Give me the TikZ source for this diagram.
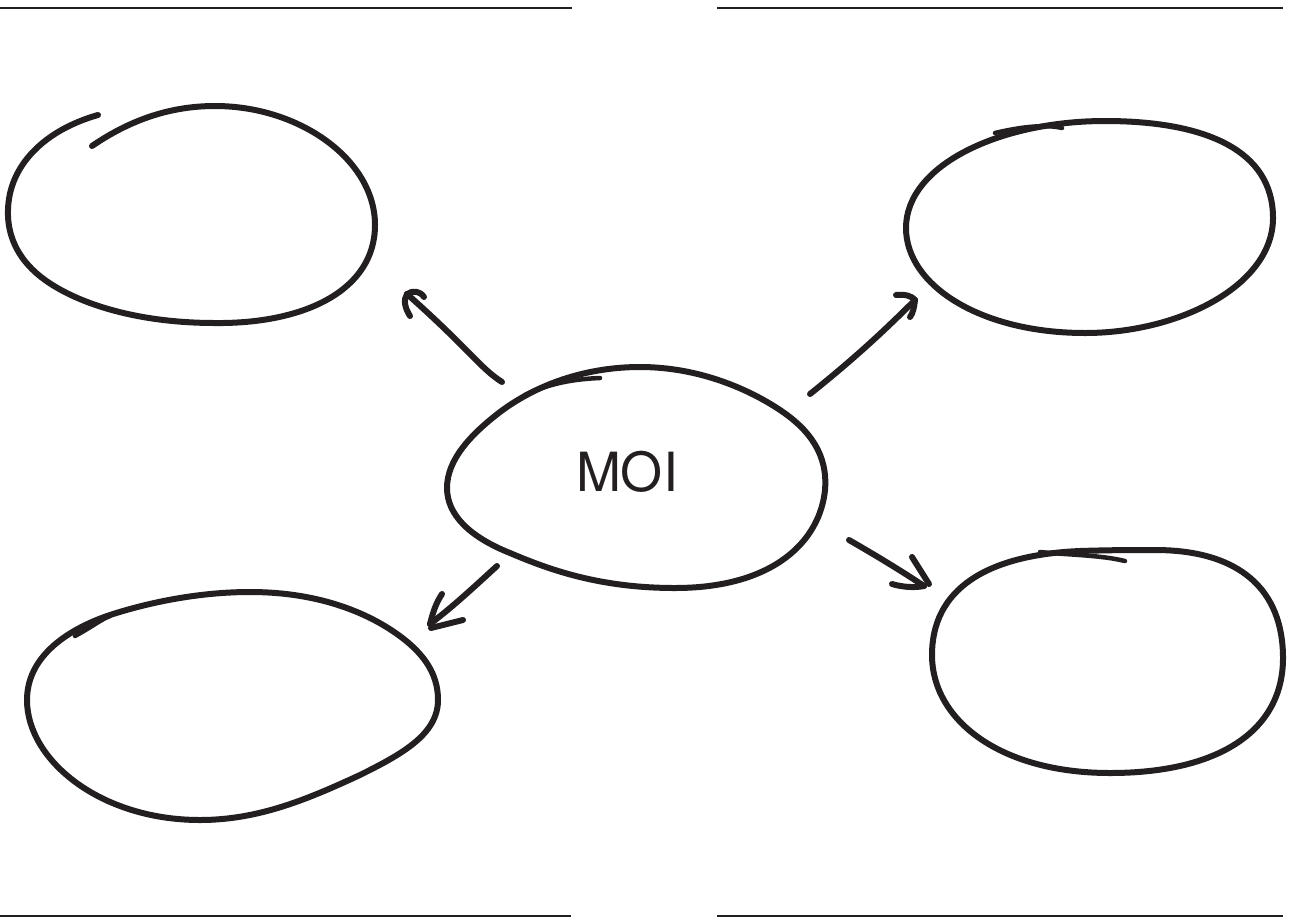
\documentclass[tikz,border=0pt]{standalone}
\usepackage{fontspec}
\setmainfont{TeX Gyre Heros}
\begin{document}
\begin{tikzpicture}[x=1pt,y=-1pt,
  ink/.style={draw=inkc,line width=6pt,line cap=round,line join=round},
  inkthin/.style={draw=inkc,line width=4.5pt,line cap=round,line join=round},
  rule/.style={draw=inkc,line width=2pt}]
\definecolor{inkc}{HTML}{231F20}
\useasboundingbox (0,0) rectangle (1289,919);
% rules
\draw[rule] (0,8) -- (572,8);
\draw[rule] (717,8) -- (1283,8);
\draw[rule] (0,916) -- (571,916);
\draw[rule] (717,916) -- (1283,916);
% top-left blob (open)
\draw[ink] (92,146) .. controls (130,120) and (170,106) .. (215,106)
  .. controls (300,106) and (375,160) .. (375,225)
  .. controls (375,290) and (305,324) .. (215,323)
  .. controls (140,323) and (80,305) .. (45,280)
  .. controls (20,262) and (7,238) .. (8,210)
  .. controls (9,165) and (45,130) .. (98,115);
% centre blob
\draw[ink] (640,367) .. controls (700,367) and (750,390) .. (780,410)
  .. controls (810,430) and (828,455) .. (825,490)
  .. controls (820,540) and (775,588) .. (675,588)
  .. controls (600,588) and (550,570) .. (510,553)
  .. controls (470,537) and (447,515) .. (447,488)
  .. controls (447,460) and (470,435) .. (500,412)
  .. controls (540,382) and (590,367) .. (640,367) -- cycle;
\draw[inkthin] (525,395) .. controls (550,383) and (575,379) .. (600,378);
\node[font=\fontsize{54pt}{54pt}\selectfont,text=inkc,inner sep=0pt] (moi) at (627,472) {MOI};
% top-right blob
\draw[ink] (1105,121) .. controls (1205,121) and (1273,150) .. (1273,218)
  .. controls (1273,285) and (1180,333) .. (1085,333)
  .. controls (980,333) and (906,285) .. (906,228)
  .. controls (906,165) and (1000,121) .. (1105,121) -- cycle;
\draw[inkthin] (995,133) .. controls (1020,127) and (1045,124) .. (1062,128);
% bottom-right blob
\draw[ink] (1155,550) .. controls (1240,550) and (1283,590) .. (1283,658)
  .. controls (1283,730) and (1220,773) .. (1110,773)
  .. controls (1000,773) and (932,720) .. (932,655)
  .. controls (932,590) and (985,555) .. (1080,551)
  .. controls (1110,550) and (1135,550) .. (1155,550) -- cycle;
\draw[inkthin] (1040,552) .. controls (1070,555) and (1100,555) .. (1125,561);
% bottom-left blob
\draw[ink] (250,592) .. controls (330,592) and (380,620) .. (405,640)
  .. controls (430,660) and (438,680) .. (438,700)
  .. controls (438,735) and (400,755) .. (360,775)
  .. controls (310,798) and (260,820) .. (200,820)
  .. controls (100,820) and (27,760) .. (27,700)
  .. controls (27,650) and (80,625) .. (110,615)
  .. controls (150,602) and (200,592) .. (250,592) -- cycle;
\draw[inkthin] (75,636) .. controls (95,625) and (100,620) .. (110,616);
% arrows
\coordinate (nwS) at (502,382); \coordinate (nwE) at (407,294);
\draw[ink] (nwS) .. controls (480,368) and (470,350) .. (nwE);
\draw[ink] (nwE) .. controls (413,290) and (420,291) .. (424,297);
\draw[ink] (nwE) .. controls (403,300) and (405,308) .. (410,316);
\coordinate (neS) at (810,394); \coordinate (neE) at (915,300);
\draw[ink] (neS) .. controls (850,362) and (880,335) .. (neE);
\draw[ink] (896,295) .. controls (905,294) and (912,296) .. (neE);
\draw[ink] (neE) .. controls (914,308) and (913,313) .. (910,317);
\coordinate (swS) at (497,566); \coordinate (swE) at (430,624);
\draw[ink] (swS) .. controls (475,586) and (455,605) .. (swE);
\draw[ink] (442,594) .. controls (436,603) and (433,612) .. (swE);
\draw[ink] (431,628) -- (463,620);
\coordinate (seS) at (849,540); \coordinate (seE) at (924,586);
\draw[ink] (seS) .. controls (875,555) and (900,570) .. (seE);
\draw[ink] (912,557) -- (929,584);
\draw[ink] (892,584) .. controls (902,587) and (914,588) .. (seE);
\end{tikzpicture}
\end{document}
